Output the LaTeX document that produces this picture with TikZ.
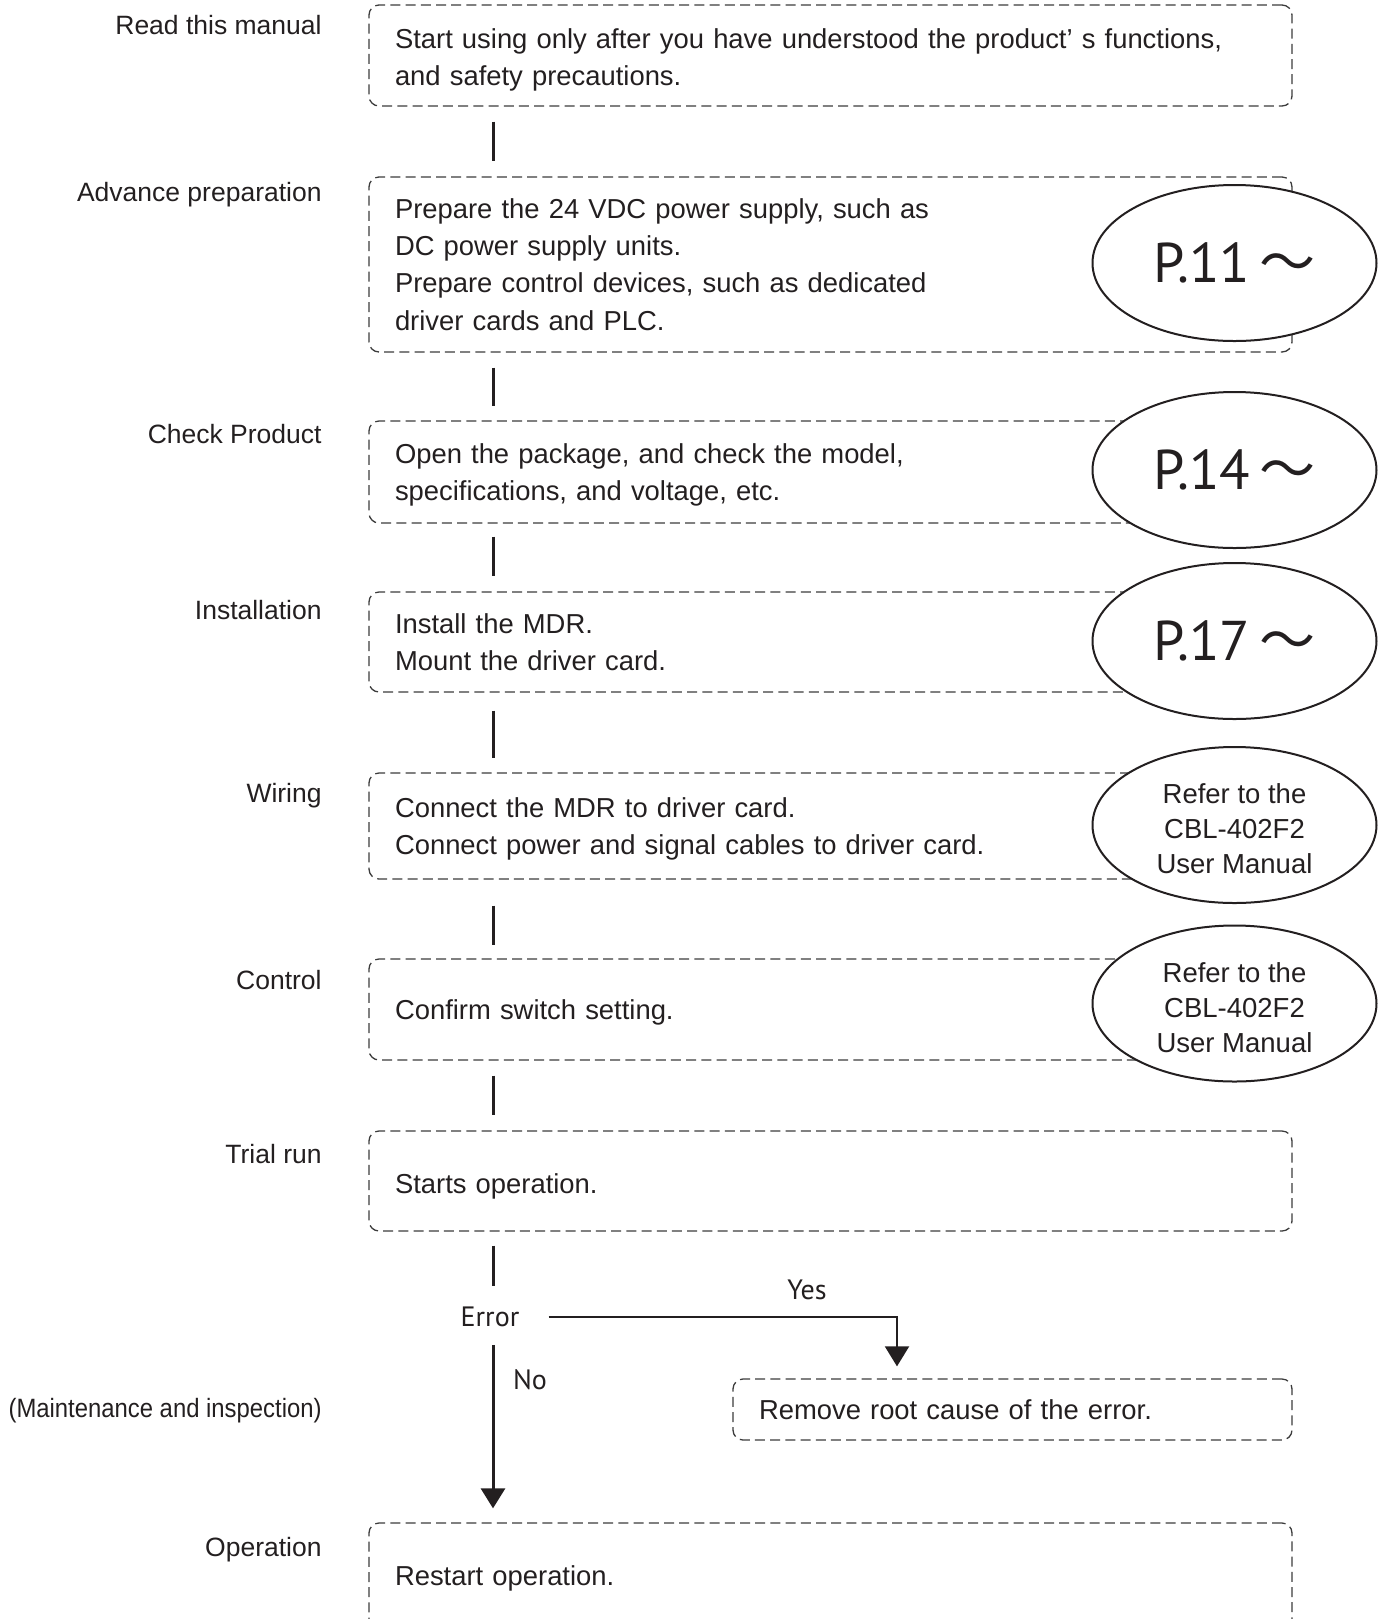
\documentclass[tikz,border=0pt]{standalone}
\usepackage{fontspec}
\usepackage{graphicx}
\setmainfont{Liberation Sans}
\newfontfamily\myr{PT Sans}
\newfontfamily\cjkjp{Noto Sans CJK JP}
\usetikzlibrary{shapes.geometric,arrows.meta,calc}
\definecolor{ink}{HTML}{231F20}
\definecolor{dashc}{HTML}{3C3C3C}
\begin{document}
\begin{tikzpicture}[x=0.5pt,y=-0.5pt,
  stepbox/.style={draw=dashc, dash pattern=on 5pt off 2.6pt, line width=0.65pt,
    rounded corners=5pt, minimum width=461.5pt, text width=435.5pt, align=left,
    inner xsep=13pt, inner ysep=0pt, font=\fontsize{13.7}{18.6}\selectfont, text=ink,
    text height=9.8pt, text depth=0pt},
  two/.style={text depth=18.6pt},
  four/.style={text depth=55.8pt},
  lbl/.style={anchor=east, font=\fontsize{13.25}{16}\selectfont, text=ink, inner sep=0pt,
    text height=9.5pt, text depth=0pt},
  refel/.style={ellipse, draw=ink, fill=white, line width=1pt, minimum width=142pt,
    minimum height=78pt, inner sep=0pt, align=center, text=ink},
  bigref/.style={refel, font=\myr\fontsize{28}{30}\selectfont},
  smallref/.style={refel, font=\fontsize{13.75}{17.5}\selectfont, text height=48.8pt, text depth=0pt},
  conn/.style={draw=ink, line width=1.5pt},
  myrtext/.style={font=\myr\fontsize{14}{16}\selectfont, text=ink, inner sep=0pt},
  tip/.style={-{Triangle[width=12pt,length=10pt]}}
]
\useasboundingbox (0,0) rectangle (1386,1619);
\coordinate (col) at (493,0);
\coordinate (yx) at (897,0);

% left labels
\node[lbl] (l1) at (322,25) {Read this manual};
\node[lbl] (l2) at (322,192) {Advance preparation};
\node[lbl] (l3) at (322,434) {Check Product};
\node[lbl] (l4) at (322,610) {Installation};
\node[lbl] (l5) at (322,793) {Wiring};
\node[lbl] (l6) at (322,980) {Control};
\node[lbl] (l7) at (322,1154) {Trial run};
\node[lbl] (l8) at (322,1408) {\resizebox{156.5pt}{\height}{(Maintenance and inspection)}};
\node[lbl] (l9) at (322,1547) {Operation};

% boxes
\node[stepbox, two, text depth=16.6pt, minimum height=50.5pt] (b1) at (830.5,55.5) {Start using only after you have understood the product’ s functions,\\and safety precautions.};
\node[stepbox, four, minimum height=87.5pt] (b2) at (830.5,264.5) {Prepare the 24 VDC power supply, such as\\DC power supply units.\\Prepare control devices, such as dedicated\\driver cards and PLC.};
\node[stepbox, two, minimum height=51pt] (b3) at (830.5,472) {Open the package, and check the model,\\specifications, and voltage, etc.};
\node[stepbox, two, minimum height=50pt] (b4) at (830.5,642) {Install the MDR.\\Mount the driver card.};
\node[stepbox, two, minimum height=53pt] (b5) at (830.5,826) {Connect the MDR to driver card.\\Connect power and signal cables to driver card.};
\node[stepbox, minimum height=50.5pt] (b6) at (830.5,1009.5) {Confirm switch setting.};
\node[stepbox, text height=12.8pt, minimum height=50pt] (b7) at (830.5,1181) {Starts operation.};
\node[stepbox, minimum height=30.5pt, minimum width=279.5pt, text width=253.5pt] (rm) at (1012.5,1409.5) {Remove root cause of the error.};
\node[stepbox, minimum height=53pt] (b9) at (830.5,1576) {Restart operation.};

% reference ellipses
\node[bigref] (e1) at (1234.5,263) {P.11\,{\cjkjp 〜}};
\node[bigref] (e2) at (1234.5,470) {P.14\,{\cjkjp 〜}};
\node[bigref] (e3) at (1234.5,641) {P.17\,{\cjkjp 〜}};
\node[smallref] (e4) at (1234.5,825) {Refer to the\\CBL-402F2\\User Manual};
\node[smallref] (e5) at (1234.5,1003.5) {Refer to the\\CBL-402F2\\User Manual};

% connectors
\draw[conn, shorten <=7.5pt, shorten >=7.5pt] (b1.south -| col) -- (b2.north -| col);
\draw[conn, shorten <=7.5pt, shorten >=7pt] (b2.south -| col) -- (b3.north -| col);
\draw[conn, shorten <=6.5pt, shorten >=7.5pt] (b3.south -| col) -- (b4.north -| col);
\draw[conn, shorten <=9pt, shorten >=7pt] (b4.south -| col) -- (b5.north -| col);
\draw[conn, shorten <=13pt, shorten >=6.5pt] (b5.south -| col) -- (b6.north -| col);
\draw[conn, shorten <=7.5pt, shorten >=7.5pt] (b6.south -| col) -- (b7.north -| col);

\node[myrtext] (err) at (490,1317) {Error};
\node[myrtext] (yes) at (807,1290) {Yes};
\node[myrtext] (no) at (530,1380) {No};

\draw[conn, shorten <=7pt, shorten >=10.5pt] (b7.south -| col) -- (err.north -| col);
\draw[draw=ink, line width=1pt, tip, shorten <=14.5pt, shorten >=6pt] (err.east) -| (rm.north -| yx);
\draw[conn, tip, shorten <=8.75pt, shorten >=7pt] (err.south -| col) -- (b9.north -| col);
\end{tikzpicture}
\end{document}
